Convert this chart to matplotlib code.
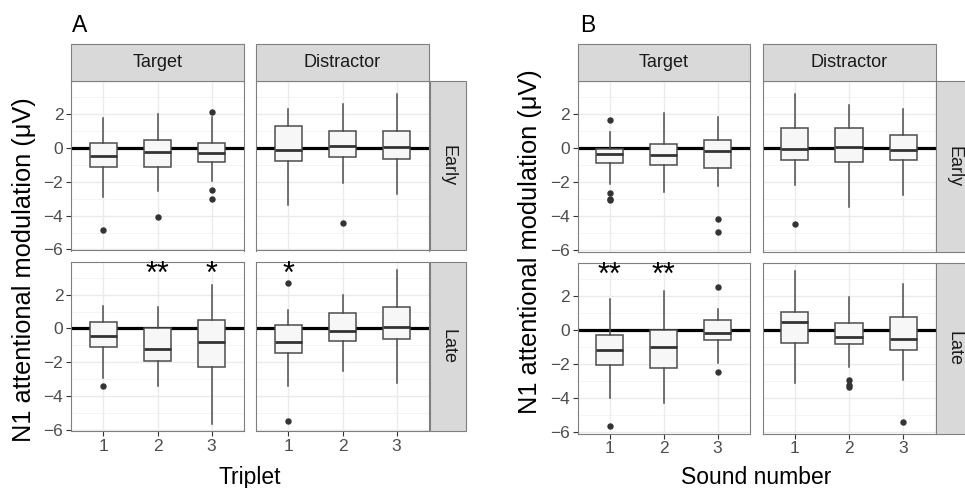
import matplotlib
matplotlib.use("Agg")
import matplotlib.pyplot as plt
from matplotlib.patches import Rectangle

plt.rcParams['font.family'] = ['Liberation Sans', 'DejaVu Sans']

# ---------------- data ----------------
# each entry: [whisker low, Q1, median, Q3, whisker high] for groups 1, 2, 3
groups = [1, 2, 3]
group_labels = ["1", "2", "3"]
conditions = ["Target", "Distractor"]
timings = ["Early", "Late"]

A_target_early = [[-2.90, -1.16, -0.49, 0.27, 1.76],
                  [-2.55, -1.12, -0.27, 0.43, 1.96],
                  [-1.96, -0.82, -0.29, 0.25, 1.82]]
A_target_early_out = [[-4.86], [-4.10], [2.08, -2.51, -3.00]]
A_distractor_early = [[-3.37, -0.76, -0.16, 1.29, 2.29],
                      [-2.08, -0.53, 0.08, 0.98, 2.55],
                      [-2.73, -0.69, 0.02, 0.96, 3.14]]
A_distractor_early_out = [[], [-4.41], []]
A_target_late = [[-2.95, -1.11, -0.46, 0.38, 1.35],
                 [-3.39, -1.92, -1.19, 0.02, 1.25],
                 [-5.62, -2.30, -0.77, 0.48, 2.55]]
A_target_late_out = [[-3.39], [], []]
A_distractor_late = [[-3.39, -1.45, -0.81, 0.18, 1.11],
                     [-2.53, -0.73, -0.12, 0.93, 2.00],
                     [-3.25, -0.65, 0.08, 1.25, 3.48]]
A_distractor_late_out = [[2.71, -5.47], [], []]

B_target_early = [[-2.10, -0.86, -0.37, -0.08, 0.92],
                  [-2.55, -1.00, -0.41, 0.25, 2.06],
                  [-2.25, -1.14, -0.18, 0.49, 1.82]]
B_target_early_out = [[1.63, -2.61, -2.98, -3.06], [], [-4.16, -4.94]]
B_distractor_early = [[-2.14, -0.69, -0.08, 1.20, 3.14],
                      [-3.43, -0.82, 0.04, 1.20, 2.55],
                      [-2.76, -0.69, -0.12, 0.75, 2.29]]
B_distractor_early_out = [[-4.47], [], []]
B_target_late = [[-3.98, -2.06, -1.18, -0.27, 1.84],
                 [-4.27, -2.24, -0.98, 0.00, 2.31],
                 [-1.90, -0.61, -0.18, 0.59, 1.24]]
B_target_late_out = [[-5.61], [], [2.53, -2.45]]
B_distractor_late = [[-3.08, -0.75, 0.45, 1.08, 3.49],
                     [-2.16, -0.82, -0.39, 0.43, 1.96],
                     [-2.90, -1.18, -0.55, 0.78, 2.69]]
B_distractor_late_out = [[], [-2.90, -3.20, -3.35], [-5.41]]

# significance stars (Late row only)
A_target_late_stars = ["", "**", "*"]
A_distractor_late_stars = ["*", "", ""]
B_target_late_stars = ["**", "**", ""]
B_distractor_late_stars = ["", "", ""]

yticks = [-6, -4, -2, 0, 2]
yminor = [-5, -3, -1, 1, 3]

# ---------------- layout ----------------
W, H = 965, 488
fig = plt.figure(figsize=(W / 100, H / 100), dpi=100)
fig.patch.set_facecolor('white')


def ax_px(x0, y0, x1, y1):
    return fig.add_axes([x0 / W, 1 - y1 / H, (x1 - x0) / W, (y1 - y0) / H])


def rect_px(x0, y0, x1, y1):
    r = Rectangle((x0 / W, 1 - y1 / H), (x1 - x0) / W, (y1 - y0) / H,
                  transform=fig.transFigure, facecolor='#D9D9D9',
                  edgecolor='#7F7F7F', linewidth=0.8, clip_on=False)
    fig.add_artist(r)


panels = {
    'A': dict(cols=[(71, 244), (256, 429)], strip_x=(430, 466),
              rows=[(81, 250.5), (262, 431)], xlab='Triplet', lab_x=72,
              ylab_x=24, ylab_y=270,
              data={('Target', 'Early'): (A_target_early, A_target_early_out, None),
                    ('Distractor', 'Early'): (A_distractor_early, A_distractor_early_out, None),
                    ('Target', 'Late'): (A_target_late, A_target_late_out, A_target_late_stars),
                    ('Distractor', 'Late'): (A_distractor_late, A_distractor_late_out, A_distractor_late_stars)}),
    'B': dict(cols=[(577.5, 750), (762.5, 935.5)], strip_x=(936, 972),
              rows=[(81, 251.5), (263, 433.5)], xlab='Sound number', lab_x=580,
              ylab_x=530, ylab_y=242,
              data={('Target', 'Early'): (B_target_early, B_target_early_out, None),
                    ('Distractor', 'Early'): (B_distractor_early, B_distractor_early_out, None),
                    ('Target', 'Late'): (B_target_late, B_target_late_out, B_target_late_stars),
                    ('Distractor', 'Late'): (B_distractor_late, B_distractor_late_out, B_distractor_late_stars)}),
}

border_col = '#7F7F7F'
tick_col = '#4D4D4D'
YLIM = (-6.06, 3.93)

for pname, P in panels.items():
    # panel letter
    fig.text(P['lab_x'] / W, 1 - 32 / H, pname, fontsize=16.5, color='black',
             ha='left', va='baseline')
    # top strips
    for ci, (x0, x1) in enumerate(P['cols']):
        rect_px(x0, 44.5, x1, 81)
        fig.text((x0 + x1) / 2 / W, 1 - 62.5 / H, conditions[ci], fontsize=13,
                 color='#1A1A1A', ha='center', va='center')
    # right strips
    sx0, sx1 = P['strip_x']
    for ri, (y0, y1) in enumerate(P['rows']):
        rect_px(sx0, y0, sx1, y1)
        fig.text((sx0 + sx1) / 2 / W, 1 - (y0 + y1) / 2 / H, timings[ri],
                 fontsize=13, color='#1A1A1A', ha='center', va='center',
                 rotation=-90)
    # axes
    for ri, (y0, y1) in enumerate(P['rows']):
        for ci, (x0, x1) in enumerate(P['cols']):
            ax = ax_px(x0, y0, x1, y1)
            stats_rows, outs, stars = P['data'][(conditions[ci], timings[ri])]
            stats = []
            for g, row, fl in zip(groups, stats_rows, outs):
                stats.append(dict(whislo=row[0], q1=row[1], med=row[2],
                                  q3=row[3], whishi=row[4], fliers=fl))
            ax.set_xlim(0.4, 3.6)
            ax.set_ylim(*YLIM)
            # grid
            for yv in yminor:
                ax.axhline(yv, color='#F2F2F2', lw=0.6, zorder=0)
            for yv in yticks:
                ax.axhline(yv, color='#EBEBEB', lw=1.0, zorder=0)
            for xv in groups:
                ax.axvline(xv, color='#EBEBEB', lw=1.0, zorder=0)
            ax.axhline(0, color='black', lw=2.3, zorder=1)
            ax.bxp(stats, positions=groups, widths=0.5, showcaps=False,
                   patch_artist=True, zorder=2,
                   boxprops=dict(facecolor='#F7F7F7', edgecolor='#4D4D4D', linewidth=1.1),
                   whiskerprops=dict(color='#4D4D4D', linewidth=1.1),
                   medianprops=dict(color='#333333', linewidth=2.0),
                   flierprops=dict(marker='o', markerfacecolor='#333333',
                                   markeredgecolor='#333333', markersize=3.6))
            if stars is not None:
                for g, s in zip(groups, stars):
                    if s:
                        ax.text(g, 4.05, s, fontsize=22, ha='center', va='top',
                                color='black', zorder=5, clip_on=False)
            for sp in ax.spines.values():
                sp.set_color(border_col)
                sp.set_linewidth(0.8)
            ax.set_facecolor('white')
            ax.set_yticks(yticks)
            ax.set_xticks(groups)
            ax.tick_params(colors='#333333', length=3.5, width=0.8,
                           labelsize=12.5, labelcolor=tick_col, pad=2)
            if ci == 0:
                ax.set_yticklabels([str(v).replace('-', '\u2212') for v in yticks])
            else:
                ax.tick_params(axis='y', length=0, labelleft=False)
            if ri == 1:
                ax.set_xticklabels(group_labels)
            else:
                ax.tick_params(axis='x', length=0, labelbottom=False)
    # axis titles
    cx = (P['cols'][0][0] + P['cols'][1][1]) / 2
    fig.text(cx / W, 1 - 484 / H, P['xlab'], fontsize=16.5, color='black',
             ha='center', va='baseline')
    fig.text(P['ylab_x'] / W, 1 - P['ylab_y'] / H, 'N1 attentional modulation (\u03bcV)',
             fontsize=18.3, color='black', ha='center', va='center', rotation=90)

fig.savefig('out.png', dpi=100, facecolor='white')
